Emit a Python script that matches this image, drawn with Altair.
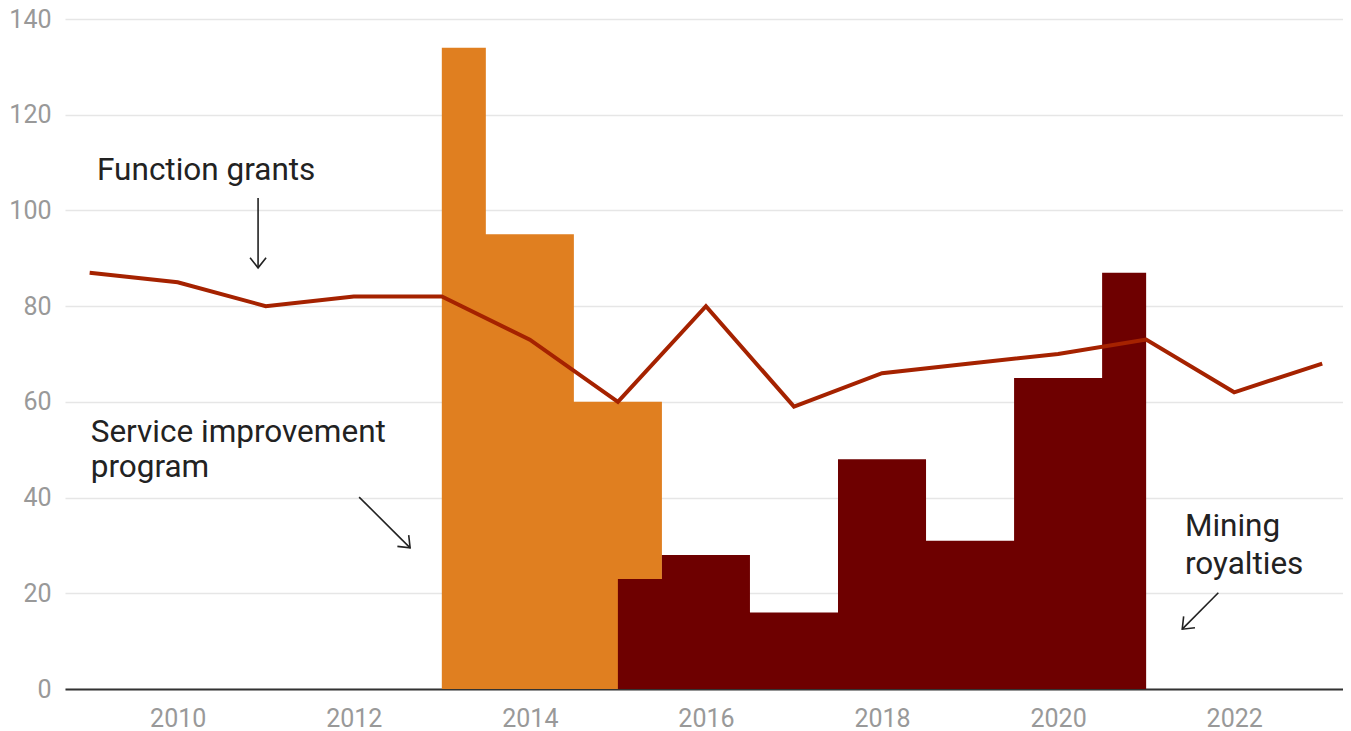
import altair as alt
import pandas as pd

# ---- data ----
line_years = list(range(2009, 2024))
function_grants = [87, 85, 80, 82, 82, 73, 60, 80, 59, 66, 68, 70, 73, 62, 68]

sip_years = [2013, 2014, 2015, 2016]
service_improvement = [134, 95, 60, 0]

mining_years = [2015, 2016, 2017, 2018, 2019, 2020, 2021]
mining_royalties = [23, 28, 16, 48, 31, 65, 87]

x_ticks = [2010, 2012, 2014, 2016, 2018, 2020, 2022]
y_ticks = [0, 20, 40, 60, 80, 100, 120, 140]

# annotations (data units)
note_text = ["Function grants", "Service improvement", "program", "Mining", "royalties"]
note_x = [2009.084, 2009.012, 2009.012, 2021.44, 2021.44]
note_y = [106.35, 51.67, 44.3, 31.97, 24.13]

arrow_x = [2010.913, 2012.061, 2021.82]
arrow_y = [102.6, 40.1, 20.1]
arrow_x2 = [2010.913, 2012.64, 2021.41]
arrow_y2 = [88.0, 29.5, 12.5]
arrow_angle = [0, 315, 45]

FONT = "Roboto"
xs = alt.Scale(domain=[2008.72, 2023.236], nice=False, zero=False)
ys = alt.Scale(domain=[0, 140], nice=False)

line_df = pd.DataFrame({"year": line_years, "value": function_grants})
sip_df = pd.DataFrame({"year": sip_years, "value": service_improvement})
min_df = pd.DataFrame({"year": mining_years, "value": mining_royalties})
note_df = pd.DataFrame({"year": note_x, "value": note_y, "t": note_text})
arr_df = pd.DataFrame({"year": arrow_x, "value": arrow_y, "x2": arrow_x2, "y2": arrow_y2, "a": arrow_angle})
head_df = pd.DataFrame({"year": arrow_x2, "value": arrow_y2, "a": arrow_angle})

x_axis = alt.Axis(values=x_ticks, format="d", title=None, grid=False, ticks=False,
                  labelFontSize=25, labelColor="#999999", labelFont=FONT, labelPadding=17,
                  domainColor="#333333", domainWidth=2)
y_axis = alt.Axis(values=y_ticks, title=None, grid=True, ticks=False, domain=False,
                  labelFontSize=25, labelColor="#999999", labelFont=FONT, labelPadding=14,
                  gridColor="#e6e6e6", gridWidth=1.5)

X = alt.X("year:Q", scale=xs, axis=x_axis)
Y = alt.Y("value:Q", scale=ys, axis=y_axis)

sip_area = alt.Chart(sip_df).mark_area(interpolate="step", color="#E07F20").encode(x=X, y=Y)
min_area = alt.Chart(min_df).mark_area(interpolate="step", color="#6E0000").encode(x=X, y=Y)
grant_line = alt.Chart(line_df).mark_line(color="#A52200", strokeWidth=4).encode(x=X, y=Y)
notes = alt.Chart(note_df).mark_text(align="left", baseline="alphabetic", font=FONT,
                                     fontSize=31.5, color="#222222").encode(x=X, y=Y, text="t:N")
arrow_lines = alt.Chart(arr_df).mark_rule(color="#222222", strokeWidth=1.6).encode(
    x=X, y=Y, x2="x2:Q", y2="y2:Q")
arrow_heads = alt.Chart(head_df).mark_point(shape="M-0.8,-1L0,0L0.8,-1", filled=False,
                                            color="#222222", strokeWidth=1.6, size=400,
                                            opacity=1).encode(
    x=X, y=Y, angle=alt.Angle("a:Q", scale=None))

chart = alt.layer(sip_area, min_area, grant_line, notes, arrow_lines, arrow_heads).properties(
    width=1278, height=670,
    autosize=alt.AutoSizeParams(type="none"),
    padding={"left": 57, "top": 11, "right": 0, "bottom": 50},
).configure_view(stroke=None)

chart.save("out.html", embed_options={"renderer": "svg", "actions": False})
